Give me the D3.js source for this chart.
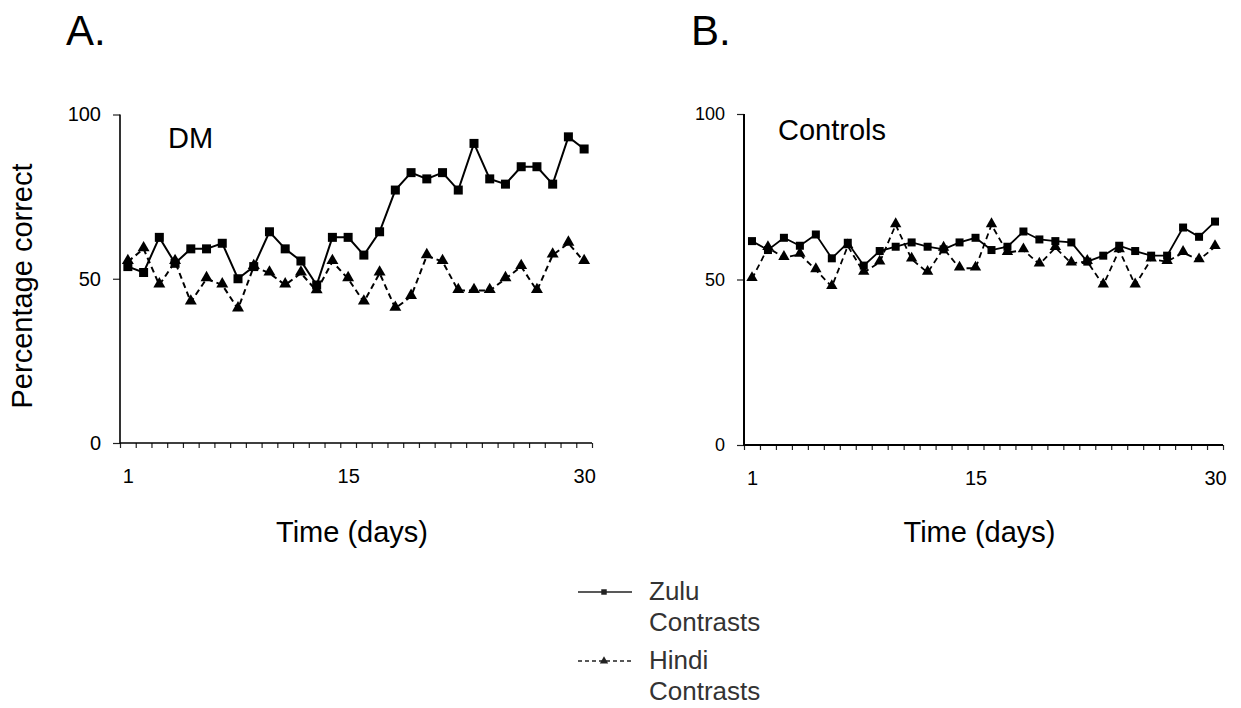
<!DOCTYPE html>
<meta charset="utf-8">
<style>
body { margin: 0; background: #fff; }
text { font-family: "Liberation Sans", Arial, sans-serif; }
</style>
<svg width="1241" height="708"></svg>
<script src="https://d3js.org/d3.v7.min.js"></script>
<script>
var days = d3.range(1, 31);
var xLabels = [1, 15, 30];
var yLabels = [0, 50, 100];

// panel A: DM
var zuluDM = [53.7, 51.9, 62.6, 54.7, 59.1, 59.1, 60.8, 50.0, 53.7, 64.3,
              59.1, 55.4, 48.1, 62.6, 62.6, 57.2, 64.3, 77.0, 82.3, 80.4,
              82.3, 77.0, 91.2, 80.4, 78.8, 84.1, 84.1, 78.8, 93.2, 89.5];
var hindiDM = [55.2, 59.1, 48.1, 55.2, 42.9, 50.0, 48.1, 40.8, 53.7, 51.7,
               48.1, 51.7, 46.3, 55.2, 50.0, 42.9, 51.7, 41.0, 44.6, 57.0,
               55.2, 46.4, 46.4, 46.4, 50.0, 53.7, 46.4, 57.2, 60.8, 55.2];

// panel B: Controls
var zuluCtrl = [61.6, 58.9, 62.6, 60.2, 63.6, 56.4, 61.1, 54.2, 58.6, 59.9,
                61.2, 59.9, 59.1, 61.2, 62.6, 58.9, 59.9, 64.5, 62.1, 61.6,
                61.2, 55.4, 57.2, 60.2, 58.6, 57.2, 57.2, 65.7, 62.9, 67.5];
var hindiCtrl = [50.2, 59.6, 56.6, 57.6, 52.9, 47.8, 60.1, 52.1, 55.2, 66.5,
                 56.1, 52.1, 59.4, 53.4, 53.4, 66.5, 58.1, 58.9, 54.6, 59.6,
                 54.9, 55.4, 48.3, 58.9, 48.3, 56.1, 55.4, 58.1, 55.9, 59.9];

var svg = d3.select("svg");

function drawPanel(p) {
  var x = d3.scaleLinear().domain([0.5, 30.5]).range([p.left, p.right]);
  var y = d3.scaleLinear().domain([0, 100]).range([p.bottom, p.top]);
  var g = svg.append("g");

  // minor ticks at category edges
  g.append("g")
    .attr("transform", "translate(0," + p.bottom + ")")
    .call(d3.axisBottom(x).tickValues(d3.range(0.5, 31, 1)).tickSize(5).tickFormat(""))
    .call(a => a.select(".domain").remove())
    .selectAll("line").attr("stroke", "#222").attr("stroke-width", 1.2);

  // day labels
  g.append("g")
    .attr("transform", "translate(0," + p.bottom + ")")
    .call(d3.axisBottom(x).tickValues(xLabels).tickSize(0).tickPadding(26))
    .call(a => a.select(".domain").remove())
    .selectAll("text").attr("font-size", p.tickFont).attr("fill", "#000")
      .style("font-family", "Liberation Sans, Arial, sans-serif");

  // y axis
  g.append("g")
    .attr("transform", "translate(" + p.left + ",0)")
    .call(d3.axisLeft(y).tickValues(yLabels).tickSize(7).tickPadding(12))
    .call(a => a.select(".domain").remove())
    .call(a => a.selectAll("line").attr("stroke", "#222").attr("stroke-width", 1.2))
    .selectAll("text").attr("font-size", p.yTickFont).attr("fill", "#000")
      .style("font-family", "Liberation Sans, Arial, sans-serif");

  // axis lines
  g.append("path")
    .attr("d", "M" + p.left + "," + p.top + "V" + p.bottom + "H" + p.right)
    .attr("fill", "none").attr("stroke", "#000").attr("stroke-width", p.axisW);

  var line = d3.line().x((d, i) => x(days[i])).y(d => y(d));

  g.append("path").datum(p.hindi)
    .attr("d", line).attr("fill", "none").attr("stroke", "#000")
    .attr("stroke-width", p.lineW).attr("stroke-dasharray", "6,4");
  g.append("path").datum(p.zulu)
    .attr("d", line).attr("fill", "none").attr("stroke", "#000")
    .attr("stroke-width", p.lineW);

  var tri = d3.symbol().type(d3.symbolTriangle).size(p.triSize);
  g.selectAll(".tri").data(p.hindi).join("path")
    .attr("class", "tri")
    .attr("d", tri)
    .attr("transform", (d, i) => "translate(" + x(days[i]) + "," + (y(d) - 1) + ")")
    .attr("fill", "#000");

  g.selectAll(".sq").data(p.zulu).join("rect")
    .attr("class", "sq")
    .attr("x", (d, i) => x(days[i]) - p.sq / 2)
    .attr("y", d => y(d) - p.sq / 2)
    .attr("width", p.sq).attr("height", p.sq)
    .attr("fill", "#000");

  g.append("text")
    .attr("x", p.nameX).attr("y", p.nameY)
    .attr("font-size", 29).text(p.name);

  g.append("text")
    .attr("x", p.letterX).attr("y", 45)
    .attr("font-size", 42).text(p.letter);

  g.append("text")
    .attr("x", (p.left + p.right) / 2 - 4).attr("y", 542)
    .attr("text-anchor", "middle")
    .attr("font-size", 29).text("Time (days)");
}

drawPanel({ left: 120, right: 592, top: 114.5, bottom: 443,
            zulu: zuluDM, hindi: hindiDM, name: "DM", nameX: 168, nameY: 148,
            letter: "A.", letterX: 66, tickFont: 20, yTickFont: 20,
            axisW: 1.6, lineW: 2, sq: 9, triSize: 62 });

drawPanel({ left: 744, right: 1223, top: 114, bottom: 445,
            zulu: zuluCtrl, hindi: hindiCtrl, name: "Controls", nameX: 778, nameY: 140,
            letter: "B.", letterX: 691, tickFont: 20, yTickFont: 18,
            axisW: 2, lineW: 1.8, sq: 8, triSize: 56 });

// y title
svg.append("text")
  .attr("transform", "translate(32,286) rotate(-90)")
  .attr("text-anchor", "middle")
  .attr("font-size", 29).text("Percentage correct");

// legend
var legendItems = [
  { name: ["Zulu", "Contrasts"], dash: null, y: 600, marker: "square" },
  { name: ["Hindi", "Contrasts"], dash: "4,3", y: 669, marker: "triangle" }
];
var leg = svg.append("g").selectAll("g").data(legendItems).join("g")
  .attr("transform", d => "translate(578," + d.y + ")");
leg.append("line")
  .attr("x1", 0).attr("x2", 54).attr("y1", -8).attr("y2", -8)
  .attr("stroke", "#222").attr("stroke-width", 1.4)
  .attr("stroke-dasharray", d => d.dash);
leg.append("path")
  .attr("d", d => d.marker === "square"
    ? d3.symbol().type(d3.symbolSquare).size(30)()
    : d3.symbol().type(d3.symbolTriangle).size(30)())
  .attr("transform", "translate(26,-8)")
  .attr("fill", "#222");
leg.append("text")
  .attr("x", 71).attr("font-size", 26).attr("fill", "#333")
  .selectAll("tspan").data(d => d.name).join("tspan")
    .attr("x", 71).attr("dy", (d, i) => i ? 31 : 0)
    .text(d => d);
</script>
